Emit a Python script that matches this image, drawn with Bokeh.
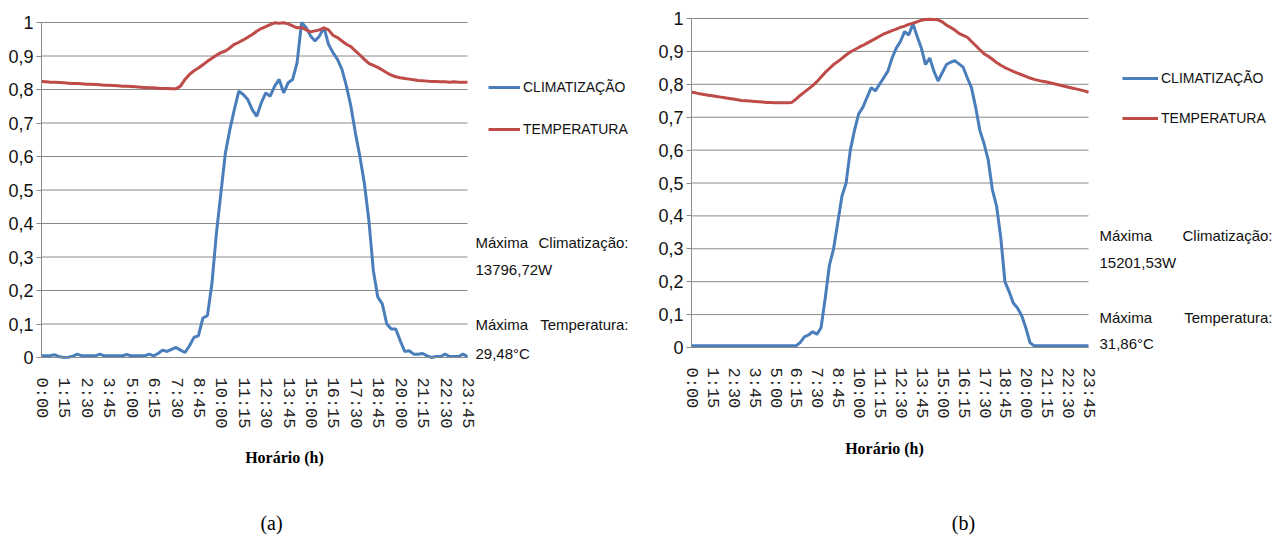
from bokeh.plotting import figure
from bokeh.layouts import row
from bokeh.models import FixedTicker, Legend, LegendItem, Label, Range1d
from bokeh.embed import file_html
from bokeh.resources import INLINE

# ---------------- data ----------------
tick_labels = ["0:00", "1:15", "2:30", "3:45", "5:00", "6:15", "7:30", "8:45", "10:00", "11:15",
               "12:30", "13:45", "15:00", "16:15", "17:30", "18:45", "20:00", "21:15", "22:30", "23:45"]
tick_positions = [0, 5, 10, 15, 20, 25, 30, 35, 40, 45, 50, 55, 60, 65, 70, 75, 80, 85, 90, 95]
y_ticks = [0, 0.1, 0.2, 0.3, 0.4, 0.5, 0.6, 0.7, 0.8, 0.9, 1]
y_labels = ["0", "0,1", "0,2", "0,3", "0,4", "0,5", "0,6", "0,7", "0,8", "0,9", "1"]

clim_a = [0.005, 0.005, 0.006, 0.008, 0.002, 0.0, 0.001, 0.004, 0.010, 0.005,
          0.005, 0.005, 0.005, 0.010, 0.005, 0.005, 0.005, 0.005, 0.005, 0.009,
          0.005, 0.005, 0.005, 0.005, 0.010, 0.005, 0.012, 0.022, 0.018, 0.024,
          0.030, 0.022, 0.015, 0.035, 0.060, 0.065, 0.118, 0.125, 0.220, 0.370,
          0.490, 0.610, 0.680, 0.740, 0.795, 0.785, 0.770, 0.740, 0.720, 0.760,
          0.790, 0.780, 0.810, 0.830, 0.790, 0.820, 0.830, 0.880, 1.000, 0.985,
          0.960, 0.945, 0.960, 0.985, 0.935, 0.910, 0.890, 0.860, 0.810, 0.750,
          0.670, 0.600, 0.520, 0.410, 0.260, 0.180, 0.160, 0.100, 0.085, 0.085,
          0.050, 0.018, 0.020, 0.010, 0.010, 0.012, 0.005, 0.000, 0.003, 0.003,
          0.010, 0.003, 0.003, 0.003, 0.010, 0.002]
temp_a = [0.824, 0.823, 0.822, 0.822, 0.821, 0.820, 0.819, 0.818, 0.818, 0.817,
          0.816, 0.816, 0.815, 0.814, 0.813, 0.813, 0.812, 0.811, 0.810, 0.810,
          0.809, 0.808, 0.807, 0.806, 0.805, 0.805, 0.804, 0.803, 0.803, 0.802,
          0.802, 0.810, 0.830, 0.845, 0.856, 0.864, 0.874, 0.884, 0.893, 0.902,
          0.910, 0.915, 0.924, 0.935, 0.941, 0.948, 0.956, 0.964, 0.974, 0.982,
          0.988, 0.994, 0.999, 0.998, 0.999, 0.996, 0.990, 0.984, 0.985, 0.978,
          0.972, 0.975, 0.978, 0.984, 0.978, 0.962, 0.955, 0.945, 0.935, 0.928,
          0.915, 0.903, 0.890, 0.878, 0.872, 0.866, 0.858, 0.850, 0.843, 0.838,
          0.835, 0.833, 0.831, 0.829, 0.827, 0.826, 0.825, 0.824, 0.824, 0.823,
          0.823, 0.822, 0.823, 0.822, 0.822, 0.822]
clim_b = [0.005] * 26 + [
          0.015, 0.032, 0.038, 0.048, 0.040, 0.060, 0.150, 0.250, 0.300, 0.380,
          0.460, 0.500, 0.600, 0.660, 0.710, 0.730, 0.760, 0.790, 0.780, 0.800,
          0.820, 0.840, 0.880, 0.910, 0.930, 0.960, 0.950, 0.985, 0.945, 0.910,
          0.860, 0.880, 0.840, 0.810, 0.835, 0.860, 0.867, 0.872, 0.862, 0.852,
          0.820, 0.790, 0.730, 0.660, 0.620, 0.570, 0.480, 0.430, 0.335, 0.200,
          0.170, 0.135, 0.120, 0.097, 0.060, 0.015] + [0.005] * 14
temp_b = [0.776, 0.774, 0.771, 0.769, 0.767, 0.765, 0.763, 0.761, 0.759, 0.757,
          0.755, 0.753, 0.751, 0.750, 0.749, 0.748, 0.747, 0.746, 0.745, 0.745,
          0.744, 0.744, 0.744, 0.744, 0.745, 0.755, 0.766, 0.776, 0.786, 0.796,
          0.808, 0.822, 0.836, 0.848, 0.860, 0.869, 0.879, 0.889, 0.898, 0.905,
          0.912, 0.918, 0.925, 0.932, 0.939, 0.946, 0.953, 0.958, 0.963, 0.968,
          0.973, 0.977, 0.982, 0.986, 0.990, 0.995, 0.997, 0.998, 0.997, 0.996,
          0.990, 0.980, 0.973, 0.965, 0.955, 0.949, 0.943, 0.930, 0.918, 0.905,
          0.893, 0.885, 0.876, 0.866, 0.858, 0.851, 0.845, 0.839, 0.834, 0.829,
          0.824, 0.819, 0.815, 0.812, 0.809, 0.807, 0.804, 0.801, 0.798, 0.795,
          0.792, 0.789, 0.786, 0.783, 0.780, 0.776]
hours = list(range(96))

series_names = ["CLIMATIZAÇÃO", "TEMPERATURA"]
note_a = ["Máxima", "Climatização:", "13796,72W", "Máxima", "Temperatura:", "29,48°C"]
note_b = ["Máxima", "Climatização:", "15201,53W", "Máxima", "Temperatura:", "31,86°C"]
x_title = "Horário (h)"
captions = ["(a)", "(b)"]

BLUE = "#4A7EBB"
RED = "#BE4B48"
GRID = "#8a8a8a"
SANS = "Liberation Sans"
H = 536


def make_panel(width, box, clim, temp, notes, caption, lay):
    fl, fr, ft, fb = box                      # pixel box of the plotting area
    sx = (fr - fl) / 95.0
    sy = (fb - ft) / 1.0
    xr = Range1d(-fl / sx, 95 + (width - fr) / sx)
    yr = Range1d(-(H - fb) / sy, 1 + ft / sy)

    def dx(px):
        return (px - fl) / sx

    def dy(py):
        return (fb - py) / sy

    p = figure(width=width, height=H, output_backend="svg", toolbar_location=None,
               x_range=xr, y_range=yr, min_border=0)
    p.outline_line_color = None
    p.background_fill_color = "white"
    p.border_fill_color = "white"
    p.xgrid.grid_line_color = None
    p.ygrid.grid_line_color = None

    # horizontal gridlines across the plotting area
    p.segment(x0=[0] * len(y_ticks), x1=[95] * len(y_ticks), y0=y_ticks, y1=y_ticks,
              line_color=GRID, line_width=1)

    r1 = p.line(hours, clim, line_color=BLUE, line_width=3)
    r2 = p.line(hours, temp, line_color=RED, line_width=3)

    xa = p.xaxis[0]
    xa.fixed_location = 0
    xa.bounds = (0, 95)
    xa.ticker = FixedTicker(ticks=tick_positions)
    xa.major_label_overrides = {t: l for t, l in zip(tick_positions, tick_labels)}
    xa.major_label_orientation = "vertical"
    xa.major_label_text_font = "Liberation Mono"
    xa.major_label_text_font_size = "17px"
    xa.major_label_text_color = "#222222"
    xa.major_tick_line_color = None
    xa.minor_tick_line_color = None
    xa.axis_line_color = GRID
    xa.major_label_standoff = 14

    ya = p.yaxis[0]
    ya.fixed_location = 0
    ya.bounds = (0, 1)
    ya.ticker = FixedTicker(ticks=y_ticks)
    ya.major_label_overrides = {t: l for t, l in zip(y_ticks, y_labels)}
    ya.major_label_text_font = SANS
    ya.major_label_text_font_size = "18px"
    ya.major_label_text_color = "#111111"
    ya.major_tick_out = 5
    ya.major_tick_in = 0
    ya.major_tick_line_color = GRID
    ya.minor_tick_line_color = None
    ya.axis_line_color = GRID
    ya.major_label_standoff = 3

    lx, lbot = lay["legend_lb"]
    lg = Legend(items=[LegendItem(label=series_names[0], renderers=[r1]),
                       LegendItem(label=series_names[1], renderers=[r2])],
                location=(lx, H - lbot), padding=0, margin=0,
                spacing=lay["legend_spacing"], glyph_width=lay["glyph_w"],
                glyph_height=20, label_height=20, label_standoff=3,
                border_line_color=None, background_fill_alpha=0,
                label_text_font=SANS, label_text_font_size="14px",
                label_text_color="#111111")
    p.add_layout(lg)

    nl, nr = lay["note_x"]
    ys = lay["note_y"]
    txt = dict(text_font=SANS, text_font_size="15px", text_color="#111111",
               text_baseline="middle")
    p.add_layout(Label(x=dx(nl), y=dy(ys[0]), text=notes[0], text_align="left", **txt))
    p.add_layout(Label(x=dx(nr), y=dy(ys[0]), text=notes[1], text_align="right", **txt))
    p.add_layout(Label(x=dx(nl), y=dy(ys[1]), text=notes[2], text_align="left", **txt))
    p.add_layout(Label(x=dx(nl), y=dy(ys[2]), text=notes[3], text_align="left", **txt))
    p.add_layout(Label(x=dx(nr), y=dy(ys[2]), text=notes[4], text_align="right", **txt))
    p.add_layout(Label(x=dx(nl), y=dy(ys[3]), text=notes[5], text_align="left", **txt))

    tx, ty = lay["title_xy"]
    p.add_layout(Label(x=dx(tx), y=dy(ty), text=x_title,
                       text_font="Liberation Serif", text_font_style="bold",
                       text_font_size="16px", text_color="#000000",
                       text_align="center", text_baseline="middle"))
    cx, cy = lay["caption_xy"]
    p.add_layout(Label(x=dx(cx), y=dy(cy), text=caption,
                       text_font="Liberation Serif", text_font_size="20px",
                       text_color="#000000", text_align="center", text_baseline="middle"))
    return p


pa = make_panel(642, (41, 467, 22, 357), clim_a, temp_a, note_a, captions[0],
                dict(legend_lb=(488, 139), legend_spacing=22, glyph_w=32,
                     note_x=(475, 628), note_y=(242, 269, 324, 353),
                     title_xy=(284, 457), caption_xy=(271, 522)))
pb = make_panel(643, (49, 446, 18, 347), clim_b, temp_b, note_b, captions[1],
                dict(legend_lb=(480, 128), legend_spacing=20, glyph_w=36,
                     note_x=(457, 630), note_y=(235, 262, 317, 343),
                     title_xy=(242, 448), caption_xy=(321, 522)))

layout = row(pa, pb)
open("out.html", "w").write(file_html(layout, INLINE))
